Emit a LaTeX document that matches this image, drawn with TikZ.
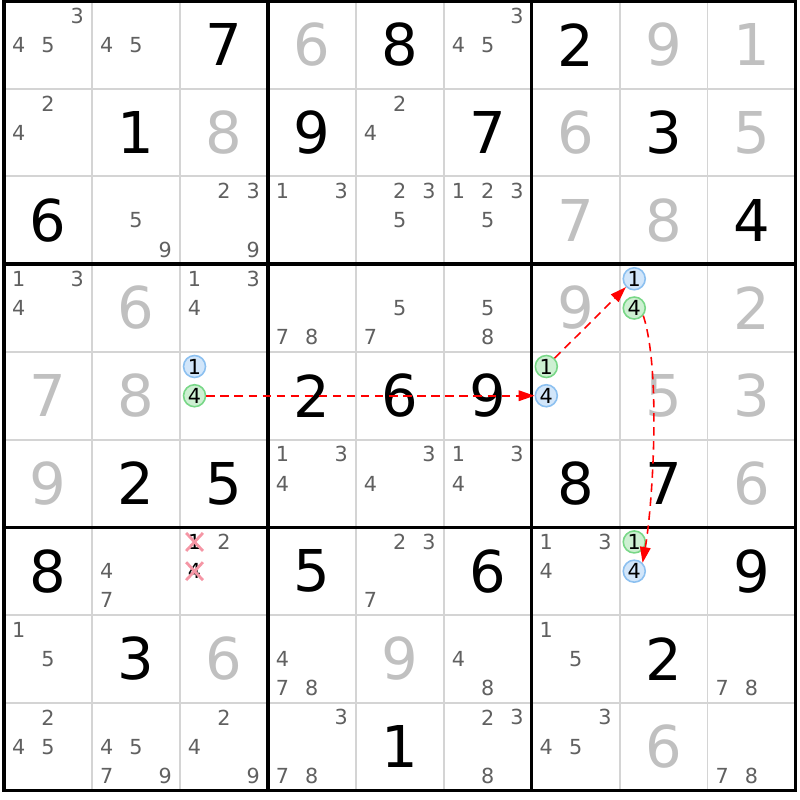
\documentclass[tikz,border=0pt]{standalone}
\usepackage{fontspec}
\setmainfont{DejaVu Sans}
\usetikzlibrary{arrows.meta}
\usetikzlibrary{shapes.misc}
\definecolor{candgray}{RGB}{96,96,96}
\definecolor{solvedgray}{RGB}{192,192,192}
\definecolor{gridgray}{RGB}{212,212,212}
\definecolor{onfill}{RGB}{210,230,250}
\definecolor{ondraw}{RGB}{140,192,240}
\definecolor{offfill}{RGB}{205,240,210}
\definecolor{offdraw}{RGB}{120,215,135}
\definecolor{elim}{RGB}{245,150,165}
\newcommand{\smallfont}{\fontsize{5.9}{5.9}\selectfont}
\tikzset{x=0.8794cm, y=0.8772cm,
    given/.style={
        font=\fontsize{16.4}{16.4}\selectfont,
        text=black,
        inner sep=0pt},
    solved/.style={given, text=solvedgray},
    cand/.style={
        font=\smallfont,
        text=candgray,
        inner sep=0pt},
    oncand/.style={
        circle,
        inner sep=0pt,
        minimum size=0.22cm,
        line width=0.45pt,
        draw=ondraw,
        fill=onfill,
        font=\smallfont},
    offcand/.style={oncand, draw=offdraw, fill=offfill},
    elimcand/.style={
        cross out,
        draw=elim,
        line width=0.8pt,
        minimum width=0.14cm,
        minimum height=0.15cm,
        inner sep=0pt,
        font=\smallfont},
    thinline/.style={draw=gridgray, line width=0.55pt},
    boxline/.style={draw=black, line width=1pt},
    link/.style={
        draw=red,
        line width=0.45pt,
        dash pattern=on 2.4pt off 1.6pt,
        -{Triangle[length=4.5pt,width=3pt]}}}
% candidates of cell (row, col)
\newcommand{\cands}[3]{%
    \foreach \d in {#3}{%
        \pgfmathtruncatemacro{\cx}{mod(\d-1,3)}%
        \pgfmathtruncatemacro{\cy}{int((\d-1)/3)}%
        \node[cand] (c#1#2\d) at ({#2-5/6+\cx/3},{9-#1+5/6-\cy/3}) {\d};}}

\begin{document}
\begin{tikzpicture}
    \useasboundingbox (-0.0455,-0.1085) rectangle (9.0516,9.0114);

    % grid
    \foreach \i in {1,2,4,5,7,8} {
        \draw[thinline] (\i,0) -- (\i,9);
        \draw[thinline] (0,\i) -- (9,\i);
    }
    \foreach \i in {3,6} {
        \draw[boxline] (\i,0) -- (\i,9);
        \draw[boxline] (0,\i) -- (9,\i);
    }
    \draw[boxline] (0,0) rectangle (9,9);

    % values
    \foreach \r/\c/\v in {1/3/7, 1/5/8, 1/7/2, 2/2/1, 2/4/9, 2/6/7, 2/8/3,
            3/1/6, 3/9/4, 5/4/2, 5/5/6, 5/6/9, 6/2/2, 6/3/5, 6/7/8, 6/8/7,
            7/1/8, 7/4/5, 7/6/6, 7/9/9, 8/2/3, 8/8/2, 9/5/1}
        \node[given] (v\r\c) at (\c-0.5,9.5-\r) {\v};
    \foreach \r/\c/\v in {1/4/6, 1/8/9, 1/9/1, 2/3/8, 2/7/6, 2/9/5, 3/7/7,
            3/8/8, 4/2/6, 4/7/9, 4/9/2, 5/1/7, 5/2/8, 5/8/5, 5/9/3, 6/1/9,
            6/9/6, 8/3/6, 8/5/9, 9/8/6}
        \node[solved] (v\r\c) at (\c-0.5,9.5-\r) {\v};

    % candidates
    \cands{1}{1}{3,4,5}
    \cands{1}{2}{4,5}
    \cands{1}{6}{3,4,5}
    \cands{2}{1}{2,4}
    \cands{2}{5}{2,4}
    \cands{3}{2}{5,9}
    \cands{3}{3}{2,3,9}
    \cands{3}{4}{1,3}
    \cands{3}{5}{2,3,5}
    \cands{3}{6}{1,2,3,5}
    \cands{4}{1}{1,3,4}
    \cands{4}{3}{1,3,4}
    \cands{4}{4}{7,8}
    \cands{4}{5}{5,7}
    \cands{4}{6}{5,8}
    \cands{6}{4}{1,3,4}
    \cands{6}{5}{3,4}
    \cands{6}{6}{1,3,4}
    \cands{7}{2}{4,7}
    \cands{7}{3}{2}
    \cands{7}{5}{2,3,7}
    \cands{7}{7}{1,3,4}
    \cands{8}{1}{1,5}
    \cands{8}{4}{4,7,8}
    \cands{8}{6}{4,8}
    \cands{8}{7}{1,5}
    \cands{8}{9}{7,8}
    \cands{9}{1}{2,4,5}
    \cands{9}{2}{4,5,7,9}
    \cands{9}{3}{2,4,9}
    \cands{9}{4}{3,7,8}
    \cands{9}{6}{2,3,8}
    \cands{9}{7}{3,4,5}
    \cands{9}{9}{7,8}

    % chain
    \node[oncand] (h481) at (7.1667,5.8333) {1};
    \node[offcand] (h484) at (7.1667,5.5) {4};
    \node[oncand] (h531) at (2.1667,4.8333) {1};
    \node[offcand] (h534) at (2.1667,4.5) {4};
    \node[offcand] (h571) at (6.1667,4.8333) {1};
    \node[oncand] (h574) at (6.1667,4.5) {4};
    \node[offcand] (h781) at (7.1667,2.8333) {1};
    \node[oncand] (h784) at (7.1667,2.5) {4};

    % eliminated
    \node[elimcand] (x731) at (2.1667,2.8333) {1};
    \node[elimcand] (x734) at (2.1667,2.5) {4};

    \draw[link] (h534) -- (h574);
    \draw[link] (h571) -- (h481);
    \draw[link] (h484.-40) to[out=-72,in=80,looseness=0.6] (h784.45);
\end{tikzpicture}
\end{document}
